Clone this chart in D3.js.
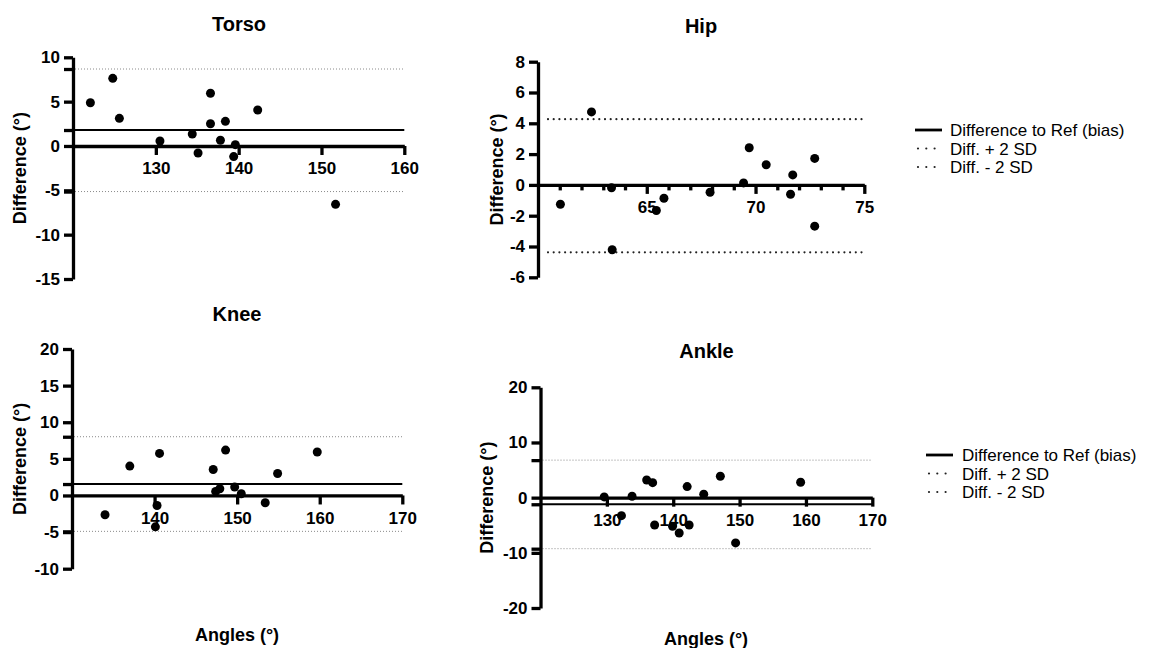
<!DOCTYPE html>
<html>
<head>
<meta charset="utf-8">
<script src="https://cdn.jsdelivr.net/npm/d3@7"></script>
<style>
  html, body { margin: 0; padding: 0; background: #fff; }
  svg { display: block; font-family: "Liberation Sans", Arial, sans-serif; }
</style>
</head>
<body>
<svg id="chart" width="1151" height="648"></svg>
<script>
// Bland-Altman data: mean angle (°) vs difference to reference (°)
const torsoAngles = [122.1, 124.8, 125.6, 130.5, 134.4, 135.1, 136.6, 136.6, 137.8, 138.4, 139.6, 139.4, 142.3, 151.7];
const torsoDiffs  = [4.88, 7.63, 3.12, 0.56, 1.35, -0.79, 5.94, 2.51, 0.64, 2.78, 0.15, -1.2, 4.06, -6.58];
const torsoLimits = [1.8, 8.68, -5.14];   // bias, +2 SD, -2 SD

const hipAngles = [61.03, 62.46, 63.38, 63.41, 65.44, 65.79, 67.91, 69.45, 69.71, 70.49, 71.71, 71.61, 72.72, 72.72];
const hipDiffs  = [-1.26, 4.74, -0.19, -4.21, -1.66, -0.87, -0.48, 0.13, 2.41, 1.31, 0.65, -0.61, 1.72, -2.68];
const hipLimits = [-0.05, 4.27, -4.38];

const kneeAngles = [134.0, 137.0, 140.6, 140.3, 140.1, 147.1, 147.4, 147.9, 148.6, 149.7, 150.5, 153.4, 154.9, 159.7];
const kneeDiffs  = [-2.64, 4.01, 5.74, -1.37, -4.28, 3.55, 0.55, 0.92, 6.2, 1.14, 0.23, -1.0, 3.0, 5.93];
const kneeLimits = [1.56, 8.02, -4.9];

const ankleAngles = [129.6, 132.2, 133.8, 136.0, 136.9, 137.2, 139.9, 140.9, 142.1, 142.4, 144.6, 147.1, 149.4, 159.2];
const ankleDiffs  = [0.13, -3.26, 0.25, 3.2, 2.72, -4.95, -5.18, -6.4, 2.0, -4.95, 0.61, 3.87, -8.2, 2.79];
const ankleLimits = [-1.2, 6.8, -9.25];

// Axis domains and ticks
const torsoXDomain = [120, 160], torsoXTicks = [130, 140, 150, 160];
const torsoYDomain = [-15, 10],  torsoYTicks = [-15, -10, -5, 0, 5, 10];
const hipXDomain = [60, 75], hipXTicks = [65, 70, 75], hipXMinor = [61, 62, 63, 64, 66, 67, 68, 69, 71, 72, 73, 74];
const hipYDomain = [-6, 8], hipYTicks = [-6, -4, -2, 0, 2, 4, 6, 8];
const kneeXDomain = [130, 170], kneeXTicks = [140, 150, 160, 170];
const kneeYDomain = [-10, 20], kneeYTicks = [-10, -5, 0, 5, 10, 15, 20];
const ankleXDomain = [120, 170], ankleXTicks = [130, 140, 150, 160, 170];
const ankleYDomain = [-20, 20], ankleYTicks = [-20, -10, 0, 10, 20];

const legendLabels = ["Difference to Ref (bias)", "Diff. + 2 SD", "Diff. - 2 SD"];

const svg = d3.select("#chart");
const plain = d => String(d);   // hyphen-minus, as in the printed figure

const panels = [
  { title: "Torso", angles: torsoAngles, diffs: torsoDiffs, limits: torsoLimits,
    xDomain: torsoXDomain, xTicks: torsoXTicks, yDomain: torsoYDomain, yTicks: torsoYTicks,
    xRange: [73, 404.3], yRange: [279, 57.3], title_xy: [239, 30.5], ylab_x: 20,
    heavyDots: false, limitTicks: true, xLabel: null },
  { title: "Hip", angles: hipAngles, diffs: hipDiffs, limits: hipLimits,
    xDomain: hipXDomain, xTicks: hipXTicks, xMinor: hipXMinor, yDomain: hipYDomain, yTicks: hipYTicks,
    xRange: [538, 864.3], yRange: [277.3, 61.7], title_xy: [701, 33], ylab_x: 497,
    heavyDots: true, limitTicks: false, dotStart: 548, xLabel: null },
  { title: "Knee", angles: kneeAngles, diffs: kneeDiffs, limits: kneeLimits,
    xDomain: kneeXDomain, xTicks: kneeXTicks, yDomain: kneeYDomain, yTicks: kneeYTicks,
    xRange: [72, 402.3], yRange: [568.7, 349], title_xy: [237, 320.7], ylab_x: 19.5,
    heavyDots: false, limitTicks: true, xLabel: [237, 641] },
  { title: "Ankle", angles: ankleAngles, diffs: ankleDiffs, limits: ankleLimits,
    xDomain: ankleXDomain, xTicks: ankleXTicks, yDomain: ankleYDomain, yTicks: ankleYTicks,
    xRange: [540.5, 872.3], yRange: [608, 387.3], title_xy: [706.5, 358.3], ylab_x: 487,
    heavyDots: false, limitTicks: true, xLabel: [706, 644.5] }
];

function styleAxis(g) {
  g.attr("font-family", null).attr("font-size", null);
  g.selectAll(".domain").attr("stroke", "#000").attr("stroke-width", 3.3);
  g.selectAll(".tick line").attr("stroke", "#000").attr("stroke-width", 3.3);
  g.selectAll(".tick text").attr("fill", "#000")
    .style("font-size", "17px").style("font-weight", "bold");
}

panels.forEach(p => {
  const x = d3.scaleLinear().domain(p.xDomain).range(p.xRange);
  const y = d3.scaleLinear().domain(p.yDomain).range(p.yRange);
  const g = svg.append("g");
  const [bias, upper, lower] = p.limits;
  const x0 = p.xRange[0], x1 = p.xRange[1];

  // Limits of agreement (±2 SD)
  [upper, lower].forEach(v => {
    const ln = g.append("line")
      .attr("x1", p.heavyDots ? p.dotStart : x0 + 2).attr("x2", x1)
      .attr("y1", y(v)).attr("y2", y(v));
    if (p.heavyDots) {
      ln.attr("stroke", "#222").attr("stroke-width", 2.2)
        .attr("stroke-linecap", "round").attr("stroke-dasharray", "0,5.7");
    } else {
      ln.attr("stroke", "#8a8a8a").attr("stroke-width", 1)
        .attr("stroke-dasharray", "1,2");
    }
  });

  // Bias line
  g.append("line")
    .attr("x1", x0).attr("x2", x1)
    .attr("y1", y(bias)).attr("y2", y(bias))
    .attr("stroke", "#000").attr("stroke-width", 2);

  // Y axis
  const yAxis = g.append("g")
    .attr("transform", `translate(${x0},0)`)
    .call(d3.axisLeft(y).tickValues(p.yTicks).tickFormat(plain)
      .tickSize(9).tickSizeOuter(0).tickPadding(4));
  styleAxis(yAxis);

  // Extra ticks marking bias and limits on the y axis
  if (p.limitTicks) {
    g.append("g").attr("transform", `translate(${x0},0)`)
      .call(d3.axisLeft(y).tickValues(p.limits).tickSize(9).tickFormat(""))
      .call(a => a.select(".domain").remove())
      .call(styleAxis);
  }

  // X axis through zero
  const xAxis = g.append("g")
    .attr("transform", `translate(0,${y(0)})`)
    .call(d3.axisBottom(x).tickValues(p.xTicks).tickFormat(plain)
      .tickSize(9).tickSizeOuter(0).tickPadding(7));
  styleAxis(xAxis);

  if (p.xMinor) {
    g.append("g").attr("transform", `translate(0,${y(0)})`)
      .call(d3.axisBottom(x).tickValues(p.xMinor).tickSize(5.5).tickFormat(""))
      .call(a => a.select(".domain").remove())
      .call(styleAxis);
  }

  // Points
  g.append("g").selectAll("circle")
    .data(p.angles.map((a, i) => [a, p.diffs[i]]))
    .join("circle")
    .attr("cx", d => x(d[0])).attr("cy", d => y(d[1]))
    .attr("r", 4.5).attr("fill", "#000");

  // Title
  g.append("text")
    .attr("x", p.title_xy[0]).attr("y", p.title_xy[1])
    .attr("text-anchor", "middle")
    .style("font-size", "20px").style("font-weight", "bold")
    .text(p.title);

  // Y axis label
  const yMid = (p.yRange[0] + p.yRange[1]) / 2;
  g.append("text")
    .attr("transform", `translate(${p.ylab_x},${yMid}) rotate(-90)`)
    .attr("text-anchor", "middle").attr("dy", "0.35em")
    .style("font-size", "18px").style("font-weight", "bold")
    .text("Difference (°)");

  if (p.xLabel) {
    g.append("text")
      .attr("x", p.xLabel[0]).attr("y", p.xLabel[1])
      .attr("text-anchor", "middle")
      .style("font-size", "18px").style("font-weight", "bold")
      .text("Angles (°)");
  }
});

// Legends
function drawLegend(lx, ly, tx, step) {
  const lg = svg.append("g");
  legendLabels.forEach((lab, i) => {
    const yy = ly + i * step;
    if (i === 0) {
      lg.append("line").attr("x1", lx).attr("x2", lx + 27).attr("y1", yy).attr("y2", yy)
        .attr("stroke", "#000").attr("stroke-width", 2.8);
    } else {
      lg.append("line").attr("x1", lx + 3).attr("x2", lx + 20).attr("y1", yy).attr("y2", yy)
        .attr("stroke", "#222").attr("stroke-width", 2.2)
        .attr("stroke-linecap", "round").attr("stroke-dasharray", "0,8.3");
    }
    lg.append("text").attr("x", tx).attr("y", yy).attr("dy", "0.36em")
      .style("font-size", "17px").attr("fill", "#000").text(lab);
  });
}
drawLegend(915, 130, 950, 18.5);
drawLegend(926, 455, 962, 18.5);
</script>
</body>
</html>
